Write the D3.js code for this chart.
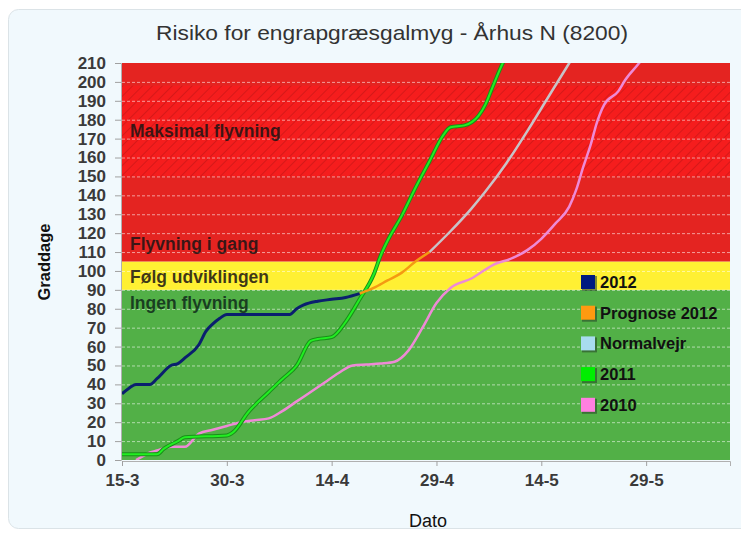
<!DOCTYPE html>
<html>
<head>
<meta charset="utf-8">
<script src="https://cdn.jsdelivr.net/npm/d3@7"></script>
<style>
  body { margin: 0; background: #fff; }
  svg { display: block; font-family: "Liberation Sans", Arial, sans-serif; }
</style>
</head>
<body>
<svg></svg>
<script>
const width = 741;
const height = 533;

// data (date "d-m" in 2012, graddage)
const serie2012 = [["15-3",35],["16-3",38],["17-3",40],["19-3",40],["20-3",43],["22-3",50],["23-3",51],
  ["24-3",54],["26-3",61],["27-3",68],["28-3",72],["29-3",75],["30-3",77],["8-4",77],["9-4",80],
  ["10-4",82],["12-4",84],["14-4",85],["16-4",86],["18-4",88]];
const prognose2012 = [["18-4",88],["20-4",91],["22-4",95],["24-4",99],["26-4",105],["28-4",110]];
const normalvejr = [["28-4",110],["1-5",121],["4-5",133],["6-5",142],["9-5",157],["12-5",174],
  ["15-5",192],["18-5",210],["19-5",216]];
const serie2011 = [["15-3",3],["20-3",3],["21-3",6],["23-3",10],["24-3",12],["30-3",13],["31-3",15],
  ["2-4",25],["5-4",36],["7-4",43],["9-4",50],["11-4",63],["12-4",64],["14-4",65],["16-4",73],
  ["18-4",85],["20-4",98],["21-4",108],["22-4",116],["24-4",129],["26-4",144],["28-4",158],
  ["30-4",172],["1-5",176],["3-5",177],["5-5",182],["6-5",188],["7-5",197],["8-5",206],["9-5",214]];
const serie2010 = [["17-3",0],["18-3",2],["19-3",4],["20-3",5],["22-3",7],["24-3",7],["26-3",14],
  ["28-3",16],["30-3",18],["1-4",20],["3-4",21],["5-4",22],["7-4",26],["9-4",31],["11-4",36],
  ["13-4",41],["15-4",46],["17-4",50],["19-4",50.5],["21-4",51],["23-4",52],["25-4",58],["27-4",70],
  ["29-4",83],["1-5",91],["4-5",96],["7-5",103],["10-5",107],["12-5",111],["14-5",117],["16-5",125],
  ["18-5",134],["19-5",143],["20-5",155],["21-5",166],["22-5",179],["23-5",188],["25-5",195],
  ["26-5",201],["28-5",210],["29-5",215]];

const xTickLabels = ["15-3","30-3","14-4","29-4","14-5","29-5"];
const yTickValues = [0,10,20,30,40,50,60,70,80,90,100,110,120,130,140,150,160,170,180,190,200,210];
const xDomain = ["15-3","10-6"];
const yDomain = [0, 210];

const bandLimits = [0, 90, 105, 210];
const hatchLimits = [150, 198];
const bandTexts = [["Ingen flyvning", 83], ["Følg udviklingen", 97], ["Flyvning i gang", 114], ["Maksimal flyvning", 174]];

const legendNames = ["2012", "Prognose 2012", "Normalvejr", "2011", "2010"];
const legendColors = ["#001a80", "#ff9a10", "#a8dcef", "#00ee00", "#ff80e0"];

const parse = s => d3.timeParse("%d-%m-%Y")(s + "-2012");

const svg = d3.select('svg').attr('width', width).attr('height', height);

// panel
svg.append('rect')
  .attr('x', 8.5).attr('y', 9.5).attr('width', 760).attr('height', 519)
  .attr('rx', 10)
  .style('fill', '#f1f9fd').style('stroke', '#dbe3e7');

const margin = {left: 122, right: 11, top: 63, bottom: 73};
const x = d3.scaleTime()
  .domain(xDomain.map(parse))
  .range([margin.left, width - margin.right]);
const y = d3.scaleLinear()
  .domain(yDomain)
  .range([height - margin.bottom, margin.top]);

const defs = svg.append('defs');
defs.append('clipPath').attr('id', 'plot')
  .append('rect')
  .attr('x', x.range()[0]).attr('y', y(210))
  .attr('width', x.range()[1] - x.range()[0]).attr('height', y(0) - y(210));

const hatch = defs.append('pattern')
  .attr('id', 'hatch').attr('patternUnits', 'userSpaceOnUse')
  .attr('width', 7).attr('height', 7)
  .attr('patternTransform', 'rotate(45)');
hatch.append('rect').attr('width', 7).attr('height', 7).style('fill', '#f51d1d');
hatch.append('line').attr('x1', 0).attr('y1', 0).attr('x2', 0).attr('y2', 7)
  .style('stroke', '#c91616').style('stroke-width', 1.4);

// bands
const bandColors = ['#52b047', '#fff033', '#e42421'];
svg.append('g').selectAll('rect')
  .data(d3.pairs(bandLimits))
  .enter().append('rect')
  .attr('x', x.range()[0])
  .attr('width', x.range()[1] - x.range()[0])
  .attr('y', d => y(d[1]))
  .attr('height', d => y(d[0]) - y(d[1]))
  .style('fill', (d, i) => bandColors[i]);

svg.append('rect')
  .attr('x', x.range()[0])
  .attr('width', x.range()[1] - x.range()[0])
  .attr('y', y(hatchLimits[1]))
  .attr('height', y(hatchLimits[0]) - y(hatchLimits[1]))
  .style('fill', 'url(#hatch)');

// grid
svg.append('g').selectAll('line')
  .data(yTickValues.filter(v => v > 0 && v < 210))
  .enter().append('line')
  .attr('x1', x.range()[0]).attr('x2', x.range()[1])
  .attr('y1', d => y(d) + 0.5).attr('y2', d => y(d) + 0.5)
  .style('stroke', '#fff').style('stroke-opacity', 0.55)
  .style('stroke-dasharray', '3,2');

// band texts
svg.append('g').selectAll('text')
  .data(bandTexts)
  .enter().append('text')
  .attr('x', x.range()[0] + 8)
  .attr('y', d => y(d[1]) + 6)
  .text(d => d[0])
  .style('font-size', '17.5px')
  .style('font-weight', 'bold')
  .style('fill', (d, i) => i === 0 ? '#0f2a1a' : '#1a1414')
  .style('fill-opacity', 0.85);

// lines
const line = d3.line()
  .x(d => x(parse(d[0])))
  .y(d => y(d[1]))
  .curve(d3.curveMonotoneX);

const lines = svg.append('g').attr('clip-path', 'url(#plot)');
lines.append('path').datum(serie2010).attr('d', line)
  .style('fill', 'none').style('stroke', '#ee8ad6').style('stroke-width', 2.5);
lines.append('path').datum(serie2011).attr('d', line)
  .style('fill', 'none').style('stroke', '#189018').style('stroke-width', 4);
lines.append('path').datum(serie2011).attr('d', line)
  .style('fill', 'none').style('stroke', '#22ee22').style('stroke-width', 2);
lines.append('path').datum(normalvejr).attr('d', line)
  .style('fill', 'none').style('stroke', '#c7c3c8').style('stroke-width', 2.5);
lines.append('path').datum(prognose2012).attr('d', line)
  .style('fill', 'none').style('stroke', '#f49a12').style('stroke-width', 2.5);
lines.append('path').datum(serie2012).attr('d', line)
  .style('fill', 'none').style('stroke', '#0a1f6e').style('stroke-width', 3);

// axes
const yAxis = svg.append('g')
  .attr('transform', `translate(${x.range()[0] - 1},0)`)
  .call(d3.axisLeft(y).tickValues(yTickValues).tickSize(6).tickPadding(9));
const xAxis = svg.append('g')
  .attr('transform', `translate(0,${y(0) + 1})`)
  .call(d3.axisBottom(x).tickValues(xTickLabels.map(parse))
    .tickFormat(d3.timeFormat('%-d-%-m')).tickSize(5).tickPadding(8));
[yAxis, xAxis].forEach(a => {
  a.select('.domain').style('stroke', '#b0b0b0');
  a.selectAll('.tick line').style('stroke', '#a0a0a0');
  a.selectAll('.tick text')
    .style('font-size', '17px').style('font-weight', 'bold')
    .style('fill', '#3a3a3a').style('font-family', '"Liberation Sans", Arial, sans-serif');
});

// legend
const legend = svg.append('g').selectAll('g')
  .data(legendNames)
  .enter().append('g')
  .attr('transform', (d, i) => `translate(581,${282 + i * 30.7})`);
legend.append('rect')
  .attr('x', 1).attr('y', -6).attr('width', 15).attr('height', 15)
  .style('fill', '#2a4a2a').style('opacity', 0.6);
legend.append('rect')
  .attr('x', 0).attr('y', -7).attr('width', 14).attr('height', 14)
  .style('fill', (d, i) => legendColors[i]);
legend.append('text')
  .attr('x', 19).attr('y', 6)
  .text(d => d)
  .style('font-size', '16.5px').style('font-weight', 'bold').style('fill', '#111');

// titles
svg.append('text')
  .attr('x', 392).attr('y', 40)
  .attr('text-anchor', 'middle')
  .attr('textLength', 472).attr('lengthAdjust', 'spacingAndGlyphs')
  .text('Risiko for engrapgræsgalmyg - Århus N (8200)')
  .style('font-size', '21px').style('fill', '#333');

svg.append('text')
  .attr('transform', 'translate(50,262) rotate(-90)')
  .attr('text-anchor', 'middle')
  .text('Graddage')
  .style('font-size', '16.5px').style('font-weight', 'bold').style('fill', '#111');

svg.append('text')
  .attr('x', 428).attr('y', 527)
  .attr('text-anchor', 'middle')
  .text('Dato')
  .style('font-size', '18px').style('fill', '#111');
</script>
</body>
</html>
